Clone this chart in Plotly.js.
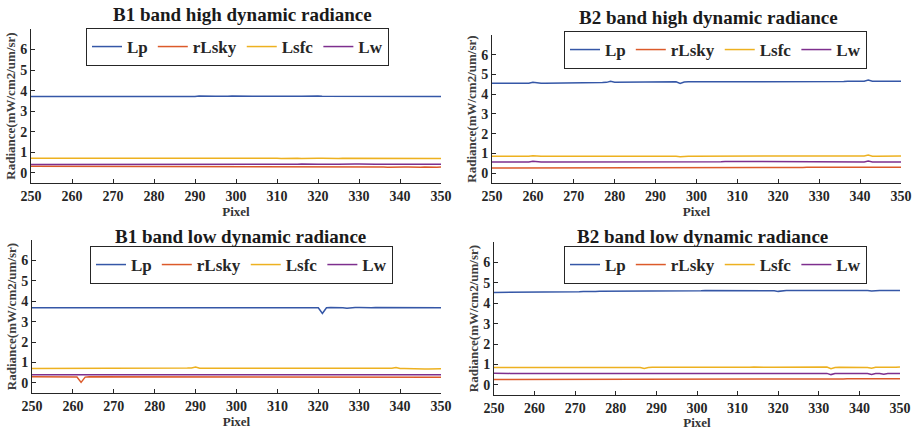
<!DOCTYPE html>
<html>
<head>
<meta charset="utf-8">
<script src="https://cdn.plot.ly/plotly-3.0.1.min.js"></script>
<style>html,body{margin:0;padding:0;background:#fff;}#chart{width:913px;height:430px;}</style>
</head>
<body>
<div id="chart"></div>
<script>
// ---------- DATA ----------
const pixels = [250,251,252,253,254,255,256,257,258,259,260,261,262,263,264,265,266,267,268,269,270,271,272,273,274,275,276,277,278,279,280,281,282,283,284,285,286,287,288,289,290,291,292,293,294,295,296,297,298,299,300,301,302,303,304,305,306,307,308,309,310,311,312,313,314,315,316,317,318,319,320,321,322,323,324,325,326,327,328,329,330,331,332,333,334,335,336,337,338,339,340,341,342,343,344,345,346,347,348,349,350];
const seriesNames = ["Lp","rLsky","Lsfc","Lw"];
const panelTitles = ["B1 band high dynamic radiance","B2 band high dynamic radiance","B1 band low dynamic radiance","B2 band low dynamic radiance"];
const xTicks = [250,260,270,280,290,300,310,320,330,340,350];
const yTicks = [0,1,2,3,4,5,6];

// B1 band high dynamic
const b1h_Lp = [3.71,3.71,3.70,3.71,3.71,3.70,3.70,3.71,3.72,3.71, 3.71,3.71,3.70,3.71,3.71,3.72,3.71,3.72,3.71,3.71, 3.72,3.73,3.71,3.70,3.71,3.72,3.72,3.73,3.71,3.72, 3.73,3.72,3.72,3.73,3.72,3.72,3.71,3.72,3.73,3.72, 3.71,3.74,3.73,3.74,3.74,3.73,3.73,3.72,3.73,3.74, 3.73,3.73,3.72,3.73,3.72,3.73,3.74,3.73,3.72,3.73, 3.73,3.72,3.73,3.73,3.74,3.72,3.72,3.73,3.73,3.74, 3.74,3.73,3.73,3.72,3.73,3.74,3.73,3.72,3.73,3.72, 3.72,3.73,3.72,3.73,3.73,3.74,3.72,3.72,3.73,3.72, 3.72,3.73,3.72,3.71,3.72,3.72,3.71,3.72,3.72,3.71,3.71];
const b1h_rLsky = [0.31,0.31,0.30,0.31,0.30,0.30,0.31,0.30,0.30,0.31, 0.30,0.30,0.31,0.30,0.30,0.31,0.30,0.30,0.30,0.31, 0.30,0.30,0.30,0.31,0.30,0.30,0.30,0.30,0.31,0.30, 0.30,0.30,0.30,0.30,0.31,0.30,0.30,0.30,0.30,0.30, 0.31,0.30,0.30,0.30,0.30,0.30,0.31,0.30,0.30,0.30, 0.30,0.30,0.30,0.30,0.30,0.30,0.30,0.31,0.30,0.30, 0.30,0.30,0.29,0.30,0.30,0.30,0.30,0.30,0.29,0.30, 0.30,0.30,0.29,0.30,0.29,0.30,0.29,0.30,0.29,0.29, 0.29,0.28,0.29,0.28,0.29,0.28,0.28,0.27,0.28,0.28, 0.27,0.28,0.28,0.27,0.28,0.27,0.28,0.27,0.28,0.27,0.28];
const b1h_Lsfc = [0.70,0.70,0.71,0.70,0.70,0.71,0.70,0.71,0.71,0.70, 0.71,0.70,0.70,0.71,0.70,0.70,0.71,0.71,0.71,0.72, 0.73,0.71,0.71,0.70,0.71,0.71,0.70,0.71,0.71,0.70, 0.71,0.70,0.70,0.71,0.70,0.71,0.70,0.70,0.71,0.70, 0.70,0.71,0.70,0.70,0.71,0.70,0.70,0.70,0.71,0.70, 0.70,0.70,0.71,0.70,0.70,0.70,0.70,0.71,0.70,0.70, 0.70,0.69,0.70,0.70,0.70,0.70,0.69,0.70,0.70,0.70, 0.70,0.70,0.69,0.70,0.70,0.69,0.70,0.70,0.69,0.70, 0.69,0.70,0.69,0.69,0.70,0.69,0.69,0.70,0.69,0.69, 0.69,0.69,0.70,0.69,0.69,0.69,0.68,0.69,0.69,0.69,0.69];
const b1h_Lw = [0.40,0.40,0.39,0.40,0.39,0.40,0.38,0.39,0.40,0.40, 0.39,0.39,0.38,0.40,0.40,0.40,0.41,0.40,0.40,0.41, 0.41,0.40,0.40,0.39,0.40,0.40,0.40,0.40,0.39,0.40, 0.40,0.40,0.41,0.40,0.40,0.41,0.40,0.40,0.40,0.41, 0.40,0.40,0.41,0.40,0.40,0.40,0.41,0.40,0.40,0.40, 0.40,0.41,0.40,0.40,0.40,0.41,0.40,0.40,0.40,0.40, 0.41,0.40,0.40,0.41,0.41,0.41,0.42,0.41,0.41,0.41, 0.41,0.41,0.42,0.41,0.41,0.41,0.42,0.41,0.41,0.42, 0.42,0.41,0.41,0.42,0.41,0.41,0.42,0.41,0.41,0.41, 0.41,0.42,0.41,0.41,0.41,0.41,0.42,0.41,0.41,0.41,0.41];

// B2 band high dynamic
const b2h_Lp = [4.55,4.55,4.55,4.55,4.55,4.55,4.55,4.54,4.55,4.56, 4.61,4.57,4.56,4.56,4.56,4.56,4.56,4.57,4.57,4.57, 4.57,4.57,4.58,4.58,4.58,4.58,4.59,4.59,4.60,4.65, 4.61,4.61,4.61,4.62,4.62,4.63,4.62,4.63,4.62,4.62, 4.62,4.63,4.62,4.62,4.62,4.63,4.55,4.62,4.63,4.63, 4.63,4.63,4.62,4.64,4.63,4.63,4.63,4.64,4.64,4.65, 4.63,4.64,4.63,4.64,4.64,4.64,4.63,4.64,4.64,4.64, 4.64,4.64,4.64,4.64,4.65,4.64,4.63,4.64,4.64,4.64, 4.65,4.64,4.65,4.65,4.65,4.65,4.64,4.66,4.66,4.66, 4.65,4.66,4.72,4.66,4.66,4.66,4.66,4.65,4.66,4.66,4.65];
const b2h_rLsky = [0.26,0.26,0.26,0.26,0.26,0.26,0.26,0.26,0.26,0.26, 0.26,0.26,0.26,0.26,0.26,0.26,0.27,0.27,0.27,0.27, 0.27,0.27,0.27,0.27,0.27,0.27,0.27,0.27,0.27,0.27, 0.27,0.27,0.28,0.28,0.28,0.28,0.28,0.28,0.28,0.28, 0.28,0.28,0.28,0.28,0.28,0.28,0.28,0.28,0.29,0.29, 0.29,0.29,0.29,0.29,0.29,0.29,0.29,0.29,0.29,0.29, 0.29,0.29,0.29,0.29,0.29,0.29,0.29,0.29,0.29,0.29, 0.29,0.29,0.29,0.29,0.29,0.29,0.29,0.30,0.30,0.30, 0.30,0.30,0.30,0.30,0.30,0.30,0.30,0.30,0.30,0.30, 0.30,0.30,0.31,0.30,0.30,0.30,0.30,0.30,0.30,0.30,0.30];
const b2h_Lsfc = [0.85,0.85,0.85,0.85,0.84,0.85,0.85,0.84,0.85,0.85, 0.88,0.85,0.85,0.85,0.85,0.85,0.85,0.85,0.85,0.85, 0.85,0.85,0.85,0.85,0.85,0.85,0.85,0.85,0.86,0.87, 0.85,0.86,0.86,0.86,0.86,0.85,0.86,0.86,0.86,0.86, 0.85,0.86,0.86,0.86,0.85,0.85,0.83,0.86,0.86,0.86, 0.86,0.86,0.86,0.86,0.86,0.86,0.87,0.87,0.88,0.87, 0.86,0.86,0.86,0.86,0.86,0.86,0.86,0.86,0.86,0.86, 0.86,0.86,0.86,0.86,0.86,0.86,0.86,0.86,0.86,0.86, 0.86,0.86,0.86,0.87,0.87,0.87,0.86,0.88,0.87,0.87, 0.86,0.87,0.92,0.86,0.86,0.86,0.86,0.86,0.87,0.87,0.87];
const b2h_Lw = [0.57,0.57,0.57,0.57,0.57,0.57,0.57,0.56,0.57,0.57, 0.60,0.57,0.57,0.57,0.57,0.57,0.57,0.57,0.57,0.57, 0.57,0.57,0.57,0.57,0.57,0.57,0.57,0.57,0.57,0.58, 0.57,0.57,0.57,0.58,0.57,0.57,0.57,0.58,0.57,0.57, 0.57,0.57,0.56,0.56,0.57,0.56,0.55,0.57,0.57,0.57, 0.57,0.57,0.57,0.57,0.57,0.58,0.58,0.59,0.59,0.58, 0.57,0.57,0.57,0.57,0.56,0.57,0.57,0.57,0.57,0.57, 0.57,0.57,0.57,0.57,0.57,0.56,0.57,0.57,0.57,0.57, 0.57,0.57,0.57,0.58,0.57,0.57,0.57,0.58,0.58,0.57, 0.56,0.57,0.61,0.57,0.57,0.57,0.57,0.57,0.57,0.57,0.57];

// B1 band low dynamic
const b1l_Lp = [3.68,3.68,3.68,3.67,3.68,3.68,3.67,3.68,3.68,3.68, 3.68,3.67,3.67,3.68,3.68,3.68,3.68,3.67,3.68,3.68, 3.68,3.67,3.68,3.68,3.68,3.68,3.68,3.68,3.67,3.68, 3.67,3.68,3.69,3.69,3.69,3.69,3.69,3.69,3.69,3.69, 3.69,3.69,3.69,3.69,3.69,3.68,3.69,3.69,3.69,3.69, 3.69,3.69,3.69,3.68,3.68,3.69,3.68,3.69,3.69,3.69, 3.69,3.69,3.68,3.69,3.69,3.69,3.69,3.69,3.68,3.68, 3.68,3.40,3.68,3.69,3.69,3.69,3.68,3.65,3.68,3.69, 3.69,3.68,3.69,3.68,3.69,3.69,3.68,3.69,3.69,3.70, 3.69,3.69,3.69,3.68,3.69,3.68,3.68,3.69,3.68,3.68,3.68];
const b1l_rLsky = [0.30,0.30,0.30,0.30,0.30,0.30,0.30,0.30,0.30,0.30, 0.30,0.28,0.02,0.28,0.30,0.30,0.30,0.30,0.30,0.30, 0.30,0.30,0.30,0.30,0.30,0.30,0.30,0.30,0.30,0.30, 0.30,0.30,0.30,0.30,0.30,0.30,0.30,0.30,0.30,0.30, 0.30,0.30,0.30,0.30,0.30,0.30,0.30,0.29,0.30,0.30, 0.30,0.29,0.30,0.29,0.29,0.29,0.29,0.29,0.29,0.29, 0.29,0.29,0.29,0.29,0.28,0.29,0.28,0.29,0.28,0.28, 0.28,0.28,0.28,0.28,0.28,0.28,0.28,0.28,0.28,0.28, 0.27,0.28,0.27,0.27,0.28,0.27,0.27,0.27,0.27,0.27, 0.27,0.27,0.27,0.27,0.27,0.27,0.27,0.27,0.27,0.27,0.27];
const b1l_Lsfc = [0.70,0.70,0.70,0.70,0.70,0.71,0.70,0.70,0.70,0.70, 0.70,0.70,0.69,0.70,0.70,0.70,0.70,0.71,0.71,0.71, 0.71,0.71,0.70,0.71,0.71,0.71,0.71,0.70,0.71,0.71, 0.71,0.71,0.71,0.71,0.71,0.71,0.71,0.71,0.72,0.73, 0.77,0.71,0.71,0.71,0.71,0.71,0.71,0.71,0.71,0.71, 0.71,0.71,0.70,0.70,0.71,0.70,0.70,0.70,0.71,0.70, 0.70,0.70,0.70,0.70,0.70,0.70,0.70,0.70,0.70,0.70, 0.70,0.70,0.70,0.70,0.70,0.70,0.70,0.70,0.70,0.69, 0.69,0.70,0.69,0.69,0.69,0.69,0.69,0.69,0.71,0.75, 0.70,0.70,0.69,0.69,0.69,0.69,0.68,0.68,0.69,0.69,0.69];
const b1l_Lw = [0.40,0.40,0.40,0.40,0.40,0.40,0.40,0.40,0.40,0.40, 0.40,0.40,0.40,0.40,0.40,0.40,0.40,0.41,0.41,0.40, 0.41,0.40,0.40,0.40,0.41,0.41,0.41,0.41,0.41,0.40, 0.41,0.41,0.41,0.42,0.41,0.41,0.41,0.41,0.42,0.42, 0.41,0.41,0.41,0.41,0.41,0.41,0.41,0.41,0.41,0.41, 0.41,0.41,0.41,0.41,0.41,0.41,0.40,0.41,0.41,0.41, 0.41,0.41,0.41,0.41,0.41,0.41,0.41,0.41,0.41,0.41, 0.41,0.41,0.41,0.41,0.40,0.41,0.40,0.40,0.40,0.40, 0.40,0.40,0.40,0.40,0.40,0.40,0.40,0.40,0.40,0.40, 0.40,0.40,0.40,0.40,0.40,0.40,0.40,0.40,0.40,0.40,0.40];

// B2 band low dynamic
const b2l_Lp = [4.53,4.53,4.53,4.53,4.53,4.54,4.54,4.54,4.54,4.54, 4.54,4.54,4.55,4.55,4.55,4.55,4.56,4.56,4.56,4.56, 4.56,4.56,4.57,4.56,4.57,4.57,4.58,4.58,4.58,4.58, 4.58,4.59,4.59,4.59,4.59,4.60,4.60,4.59,4.59,4.60, 4.60,4.60,4.61,4.61,4.61,4.60,4.61,4.61,4.60,4.61, 4.61,4.61,4.62,4.62,4.61,4.61,4.61,4.62,4.61,4.61, 4.61,4.61,4.62,4.62,4.62,4.62,4.62,4.61,4.62,4.61, 4.58,4.61,4.62,4.62,4.62,4.62,4.61,4.61,4.62,4.62, 4.63,4.64,4.63,4.61,4.62,4.62,4.63,4.63,4.63,4.63, 4.63,4.63,4.62,4.60,4.62,4.62,4.62,4.63,4.62,4.62,4.62];
const b2l_rLsky = [0.26,0.26,0.26,0.26,0.26,0.26,0.26,0.26,0.26,0.26, 0.26,0.26,0.26,0.27,0.27,0.27,0.27,0.27,0.27,0.27, 0.27,0.27,0.27,0.27,0.27,0.27,0.27,0.27,0.27,0.27, 0.27,0.27,0.27,0.27,0.28,0.28,0.28,0.28,0.28,0.28, 0.28,0.28,0.28,0.28,0.28,0.28,0.28,0.28,0.28,0.28, 0.28,0.28,0.28,0.28,0.28,0.28,0.28,0.28,0.29,0.29, 0.29,0.29,0.29,0.29,0.29,0.29,0.29,0.29,0.29,0.29, 0.29,0.29,0.29,0.29,0.29,0.29,0.29,0.29,0.29,0.29, 0.29,0.29,0.29,0.29,0.29,0.29,0.29,0.30,0.30,0.30, 0.30,0.30,0.30,0.30,0.30,0.30,0.30,0.30,0.30,0.30,0.30];
const b2l_Lsfc = [0.85,0.85,0.85,0.84,0.85,0.85,0.85,0.85,0.85,0.85, 0.85,0.85,0.85,0.85,0.85,0.85,0.85,0.85,0.85,0.85, 0.85,0.85,0.85,0.85,0.85,0.85,0.85,0.85,0.85,0.85, 0.85,0.85,0.85,0.85,0.86,0.86,0.85,0.80,0.85,0.86, 0.86,0.86,0.86,0.85,0.86,0.86,0.86,0.83,0.86,0.86, 0.86,0.86,0.86,0.86,0.86,0.86,0.86,0.86,0.86,0.86, 0.86,0.86,0.86,0.86,0.87,0.86,0.86,0.86,0.86,0.86, 0.86,0.86,0.86,0.86,0.86,0.86,0.85,0.87,0.86,0.86, 0.86,0.86,0.87,0.79,0.85,0.86,0.86,0.86,0.86,0.86, 0.86,0.86,0.85,0.81,0.86,0.86,0.86,0.83,0.86,0.86,0.87];
const b2l_Lw = [0.57,0.56,0.56,0.56,0.56,0.56,0.56,0.56,0.56,0.56, 0.56,0.56,0.56,0.56,0.56,0.56,0.56,0.56,0.56,0.56, 0.56,0.56,0.56,0.56,0.56,0.56,0.56,0.56,0.56,0.56, 0.56,0.56,0.56,0.56,0.56,0.56,0.56,0.53,0.55,0.56, 0.56,0.56,0.56,0.56,0.56,0.56,0.56,0.55,0.56,0.56, 0.56,0.56,0.56,0.56,0.56,0.56,0.56,0.56,0.56,0.56, 0.56,0.56,0.56,0.56,0.56,0.56,0.56,0.56,0.56,0.56, 0.56,0.56,0.56,0.56,0.56,0.56,0.55,0.56,0.56,0.56, 0.56,0.56,0.56,0.50,0.55,0.56,0.56,0.56,0.56,0.56, 0.56,0.56,0.55,0.51,0.55,0.55,0.52,0.55,0.56,0.56,0.56];

const panels = [
  [b1h_Lp, b1h_rLsky, b1h_Lsfc, b1h_Lw],
  [b2h_Lp, b2h_rLsky, b2h_Lsfc, b2h_Lw],
  [b1l_Lp, b1l_rLsky, b1l_Lsfc, b1l_Lw],
  [b2l_Lp, b2l_rLsky, b2l_Lsfc, b2l_Lw]
];

// ---------- STYLE / LAYOUT ----------
const W = 913, H = 430;
const colors = ["#3557A7", "#DC5A2A", "#EDB120", "#7E2F8E"];
const FONT = "Liberation Serif";
// plot boxes in px: [left, right, top, bottom]
const boxes = [[31,441,29,183],[492,901,35,183],[32,441,240,393],[494,900,242,395]];
const titlePos = [[242,15],[708,18],[240,236],[702,236]];
const legendPos = [[237.5,28],[715.5,31],[241.5,246],[715.5,246]];

const traces = [];
const layout = {
  width: W, height: H, autosize: false,
  margin: {l:0, r:0, t:0, b:0},
  paper_bgcolor: "#fff", plot_bgcolor: "#fff",
  font: {family: FONT, color: "#262626"},
  annotations: [],
  showlegend: true
};

panels.forEach((series, p) => {
  const ax = p === 0 ? "" : String(p+1);
  const lg = p === 0 ? "legend" : "legend" + (p+1);
  series.forEach((vals, s) => {
    traces.push({
      type: "scatter", mode: "lines",
      x: pixels, y: vals, name: seriesNames[s],
      xaxis: "x" + ax, yaxis: "y" + ax, legend: lg,
      line: {color: colors[s], width: 1.5}
    });
  });
  const b = boxes[p];
  const axCommon = {
    showline: true, linecolor: "#262626", linewidth: 1,
    ticks: "inside", ticklen: 4, tickcolor: "#262626", tickwidth: 1,
    showgrid: false, zeroline: false, mirror: false,
    tickfont: {family: FONT, size: 14, weight: "bold", color: "#262626"}
  };
  layout["xaxis" + ax] = Object.assign({}, axCommon, {
    domain: [b[0]/W, b[1]/W], anchor: "y" + ax,
    range: [250, 350], tickvals: xTicks,
    title: {text: "Pixel", font: {family: FONT, size: 13, weight: "bold", color: "#333"}, standoff: 1}
  });
  layout["yaxis" + ax] = Object.assign({}, axCommon, {
    domain: [1 - b[3]/H, 1 - b[2]/H], anchor: "x" + ax,
    range: [-0.5, 7], tickvals: yTicks,
    title: {text: "Radiance(mW/cm2/um/sr)", font: {family: FONT, size: 13, weight: "bold", color: "#404040"}, standoff: 1}
  });
  layout[lg] = {
    orientation: "h", xref: "paper", yref: "paper",
    x: legendPos[p][0]/W, y: 1 - legendPos[p][1]/H,
    xanchor: "center", yanchor: "top",
    bgcolor: "#fff", bordercolor: "#262626", borderwidth: 1,
    font: {family: FONT, size: 17, weight: "bold", color: "#262626"},
    itemwidth: 30, tracegroupgap: 0
  };
  layout.annotations.push({
    text: panelTitles[p], xref: "paper", yref: "paper",
    x: titlePos[p][0]/W, y: 1 - titlePos[p][1]/H,
    xanchor: "center", yanchor: "middle", showarrow: false,
    font: {family: FONT, size: 19, weight: "bold", color: "#1a1a1a"}
  });
});

Plotly.newPlot("chart", traces, layout, {displayModeBar: false, staticPlot: true});
</script>
</body>
</html>
